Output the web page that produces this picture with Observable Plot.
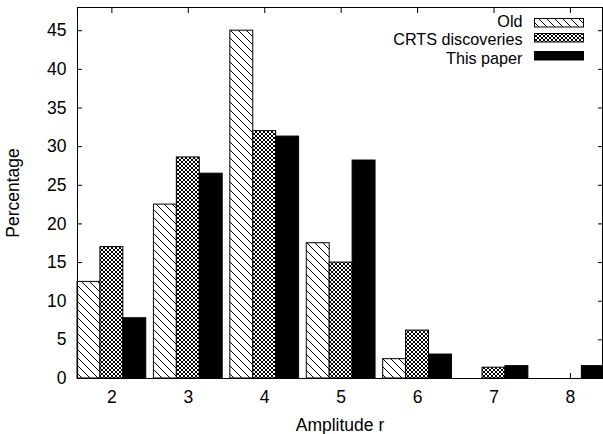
<!DOCTYPE html>
<html><head><meta charset="utf-8">
<script src="https://cdn.jsdelivr.net/npm/d3@7"></script>
<script src="https://cdn.jsdelivr.net/npm/@observablehq/plot@0.6"></script>
<style>
body{margin:0;background:#fff;}
#chart{position:relative;width:603px;height:434px;overflow:hidden;}
#chart svg{position:absolute;left:0;top:0;}
</style></head><body>
<svg width="0" height="0" style="position:absolute">
  <defs>
    <pattern id="pat-old" patternUnits="userSpaceOnUse" width="8" height="8">
      <rect width="8" height="8" fill="white"/>
      <path d="M0,0L8,8M-1,7L1,9M7,-1L9,1" stroke="black" stroke-width="1" fill="none"/>
    </pattern>
    <pattern id="pat-crts" patternUnits="userSpaceOnUse" width="4" height="4">
      <rect width="4" height="4" fill="white"/>
      <path d="M0,0L4,4M4,0L0,4" stroke="black" stroke-width="1" fill="none"/>
    </pattern>
  </defs>
</svg>
<div id="chart"></div>
<script>
const amplitudes = [2, 3, 4, 5, 6, 7, 8];
const seriesNames = ["Old", "CRTS discoveries", "This paper"];
const oldValues = [12.5, 22.5, 45, 17.5, 2.5, 0, 0];
const crtsValues = [17, 28.6, 32, 15, 6.2, 1.4, 0];
const thisPaperValues = [7.8, 26.5, 31.3, 28.2, 3.1, 1.6, 1.6];
const yTicks = [0, 5, 10, 15, 20, 25, 30, 35, 40, 45];
const xTicks = amplitudes;

const seriesValues = [oldValues, crtsValues, thisPaperValues];
const seriesFills = ["url(#pat-old)", "url(#pat-crts)", "black"];
const barWidth = 0.3;

const rows = [];
seriesNames.forEach((name, s) => {
  amplitudes.forEach((r, i) => {
    const off = -1.5 * barWidth + s * barWidth;
    rows.push({series: name, s, r, value: seriesValues[s][i], x1: r + off, x2: r + off + barWidth});
  });
});

const font = "Liberation Sans";
const fontSize = 17.5;
const legendFontSize = 16.2;
const chart = Plot.plot({
  width: 603, height: 434,
  marginLeft: 77, marginRight: 1, marginTop: 7, marginBottom: 56,
  style: {fontFamily: font, fontSize: fontSize + "px", color: "black", background: "white"},
  x: {domain: [1.55, 8.42]},
  y: {domain: [0, 48]},
  marks: [
    Plot.axisX({anchor: "bottom", ticks: xTicks, tickFormat: d3.format("d"), tickSize: -5, tickPadding: 17, label: "Amplitude r", labelAnchor: "center", labelOffset: 52, labelArrow: "none"}),
    Plot.axisX({anchor: "top", ticks: xTicks, tickSize: -5, tickFormat: () => "", label: null}),
    Plot.axisY({anchor: "left", ticks: yTicks, tickFormat: d3.format("d"), tickSize: -5, tickPadding: 16, label: "Percentage", labelAnchor: "center", labelOffset: 71, labelArrow: "none"}),
    Plot.axisY({anchor: "right", ticks: yTicks, tickSize: -5, tickFormat: () => "", label: null}),
    ...seriesNames.map((name, s) => Plot.rectY(rows.filter(d => d.s === s && d.value > 0), {
      x1: "x1", x2: "x2", y: "value", fill: seriesFills[s], stroke: "black", strokeWidth: 1
    })),
    Plot.frame({stroke: "black", strokeWidth: 1})
  ]
});
document.getElementById("chart").appendChild(chart);

// legend overlay
const legend = d3.select("#chart").append("svg")
  .attr("width", 603).attr("height", 434)
  .style("pointer-events", "none");
const legendRows = [
  {name: seriesNames[0], fill: seriesFills[0], base: 27, top: 18.5},
  {name: seriesNames[1], fill: seriesFills[1], base: 45.4, top: 33.5},
  {name: seriesNames[2], fill: seriesFills[2], base: 63.8, top: 51.5}
];
legendRows.forEach(d => {
  legend.append("text").attr("x", 522.5).attr("y", d.base)
    .attr("text-anchor", "end").attr("font-family", font).attr("font-size", legendFontSize).attr("fill", "black")
    .text(d.name);
  legend.append("rect").attr("x", 534.5).attr("y", d.top).attr("width", 49).attr("height", 8.5)
    .attr("fill", d.fill).attr("stroke", "black").attr("stroke-width", 1);
});
</script>
</body></html>
